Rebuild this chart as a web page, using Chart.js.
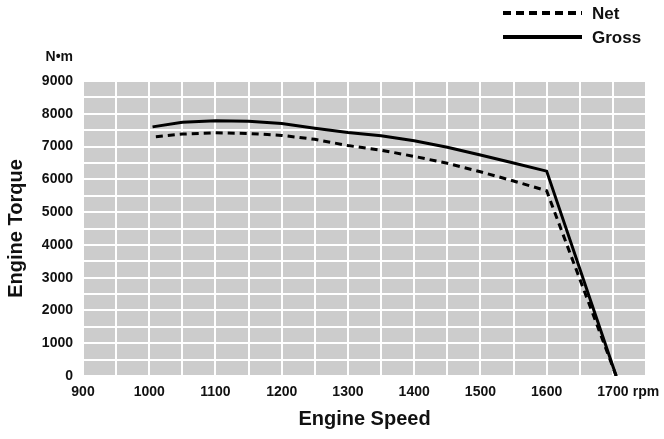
<!DOCTYPE html>
<html>
<head>
<meta charset="utf-8">
<script src="https://cdn.jsdelivr.net/npm/chart.js@4"></script>
<style>
  html, body { margin: 0; padding: 0; background: #fff; }
  #wrap { width: 664px; height: 439px; }
</style>
</head>
<body>
<div id="wrap"><canvas id="torqueChart" width="664" height="439"></canvas></div>
<script>
// engine speed (rpm) / torque (N•m)
const rpmGross = [1005, 1050, 1100, 1150, 1200, 1250, 1300, 1350, 1400, 1450, 1500, 1550, 1600, 1705];
const grossTorque = [7600, 7740, 7790, 7770, 7700, 7560, 7430, 7330, 7180, 6980, 6740, 6500, 6250, 0];
const rpmNet = [1010, 1050, 1100, 1150, 1200, 1250, 1300, 1350, 1400, 1450, 1500, 1550, 1600, 1705];
const netTorque = [7300, 7380, 7420, 7400, 7340, 7220, 7030, 6890, 6700, 6490, 6230, 5950, 5650, 0];

const xLabels = [900, 1000, 1100, 1200, 1300, 1400, 1500, 1600, 1700];
const yLabels = [0, 1000, 2000, 3000, 4000, 5000, 6000, 7000, 8000, 9000];
const xUnit = 'rpm';
const yUnit = 'N•m';

const FONT = "'Liberation Sans', Arial, sans-serif";

const toPoints = (xs, ys) => xs.map((x, i) => ({ x: x, y: ys[i] }));

// gray plot background
const plotBg = {
    id: 'plotBg',
    beforeDraw(chart) {
        const a = chart.chartArea;
        const ctx = chart.ctx;
        ctx.save();
        ctx.fillStyle = '#cccccc';
        ctx.fillRect(a.left, a.top, a.right - a.left, a.bottom - a.top);
        ctx.restore();
    }
};

// unit label + stacked legend top right
const extras = {
    id: 'extras',
    afterDraw(chart) {
        const ctx = chart.ctx;
        const a = chart.chartArea;
        ctx.save();
        ctx.fillStyle = '#111';
        ctx.font = 'bold 14px ' + FONT;
        ctx.textAlign = 'right';
        ctx.textBaseline = 'middle';
        ctx.fillText(yUnit, a.left - 10, 57);

        const rows = [13, 37];
        chart.data.datasets.forEach((ds, i) => {
            const y = rows[i];
            ctx.strokeStyle = ds.borderColor;
            ctx.lineWidth = 4;
            ctx.setLineDash(ds.borderDash ? [8, 5] : []);
            ctx.beginPath();
            ctx.moveTo(503, y);
            ctx.lineTo(582, y);
            ctx.stroke();
            ctx.setLineDash([]);
            ctx.font = 'bold 17px ' + FONT;
            ctx.textAlign = 'left';
            ctx.fillText(ds.label, 592, y + 1);
        });
        ctx.restore();
    }
};

new Chart(document.getElementById('torqueChart'), {
    type: 'line',
    data: {
        datasets: [
            {
                label: 'Net',
                data: toPoints(rpmNet, netTorque),
                borderColor: '#000',
                borderWidth: 3,
                borderDash: [7, 5],
                pointRadius: 0,
                tension: 0
            },
            {
                label: 'Gross',
                data: toPoints(rpmGross, grossTorque),
                borderColor: '#000',
                borderWidth: 3,
                pointRadius: 0,
                tension: 0
            }
        ]
    },
    options: {
        responsive: false,
        animation: false,
        layout: { padding: { top: 81, right: 18, left: 0, bottom: 0 } },
        scales: {
            x: {
                type: 'linear',
                min: 900,
                max: 1750,
                afterFit: s => { s.height = 63; s.paddingRight = 0; s.paddingLeft = 0; },
                ticks: {
                    stepSize: 50,
                    autoSkip: false,
                    maxRotation: 0,
                    padding: 8,
                    color: '#111',
                    font: { family: FONT, size: 14, weight: 'bold' },
                    callback: v => xLabels.includes(v) ? String(v) : (v === 1750 ? xUnit : '')
                },
                grid: { color: '#fff', lineWidth: 2, drawTicks: false },
                border: { display: false },
                title: {
                    display: true,
                    text: 'Engine Speed',
                    color: '#111',
                    padding: { top: 0, bottom: 8 },
                    font: { family: FONT, size: 20, weight: 'bold' }
                }
            },
            y: {
                min: 0,
                max: 9000,
                afterFit: s => { s.width = 83; },
                ticks: {
                    stepSize: 500,
                    autoSkip: false,
                    padding: 10,
                    color: '#111',
                    font: { family: FONT, size: 14, weight: 'bold' },
                    callback: v => yLabels.includes(v) ? String(v) : ''
                },
                grid: { color: '#fff', lineWidth: 2, drawTicks: false },
                border: { display: false },
                title: {
                    display: true,
                    text: 'Engine Torque',
                    color: '#111',
                    padding: { top: 4, bottom: 0 },
                    font: { family: FONT, size: 20, weight: 'bold' }
                }
            }
        },
        plugins: {
            legend: { display: false },
            tooltip: { enabled: false }
        }
    },
    plugins: [plotBg, extras]
});
</script>
</body>
</html>
